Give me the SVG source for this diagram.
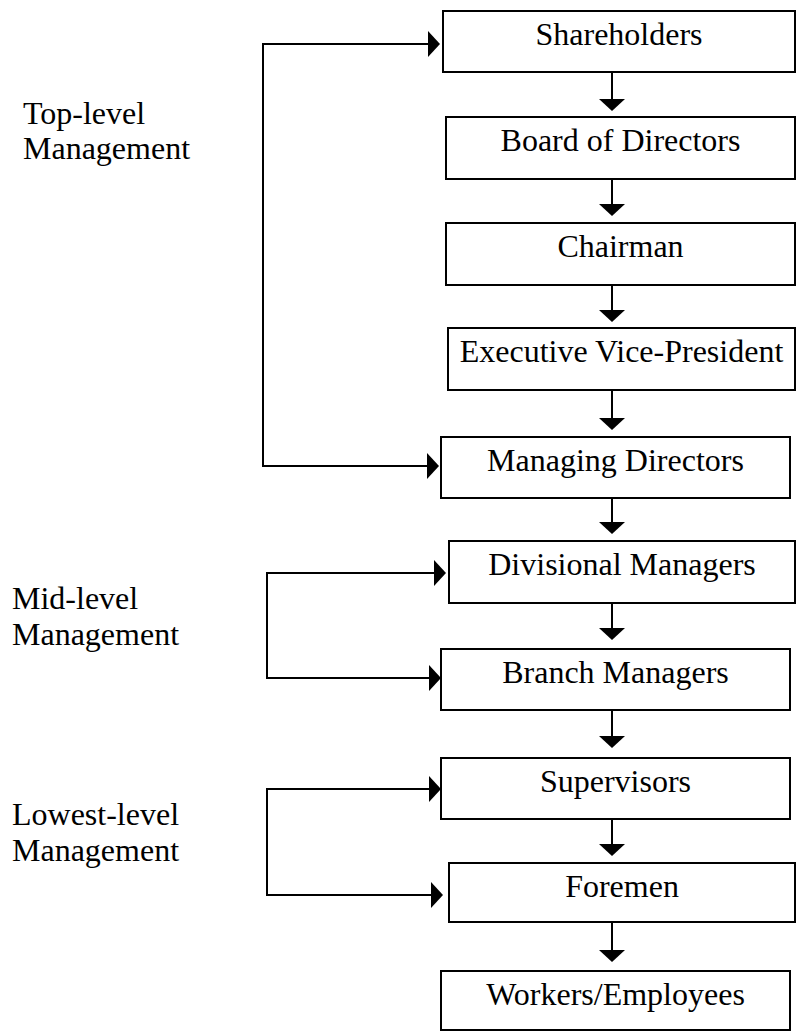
<svg xmlns="http://www.w3.org/2000/svg" width="796" height="1034" viewBox="0 0 796 1034">
  <defs>
    <style>
      .box { fill: #ffffff; stroke: #000000; stroke-width: 2; }
      .lbl { font-family: "Liberation Serif", "Times New Roman", serif; font-size: 32px; fill: #000000; }
      .mid { text-anchor: middle; }
      .conn { fill: none; stroke: #000000; stroke-width: 2; }
    </style>
    <marker id="ah" viewBox="0 0 12 26" markerWidth="12" markerHeight="26" refX="10" refY="13" orient="auto-start-reverse" markerUnits="userSpaceOnUse">
      <path d="M0,0 L12,13 L0,26 z" fill="#000000"/>
    </marker>
  </defs>

  <rect width="796" height="1034" fill="#ffffff"/>

  <!-- level labels -->
  <g id="label-top">
    <text class="lbl" x="23" y="124">Top-level</text>
    <text class="lbl" x="23" y="159">Management</text>
  </g>
  <g id="label-mid">
    <text class="lbl" x="12" y="609">Mid-level</text>
    <text class="lbl" x="12" y="645">Management</text>
  </g>
  <g id="label-low">
    <text class="lbl" x="12" y="825">Lowest-level</text>
    <text class="lbl" x="12" y="861">Management</text>
  </g>

  <!-- hierarchy boxes -->
  <g id="shareholders">
    <rect class="box" x="443" y="11" width="352" height="61"/>
    <text class="lbl mid" x="619" y="45">Shareholders</text>
  </g>
  <g id="board">
    <rect class="box" x="446" y="117" width="349" height="62"/>
    <text class="lbl mid" x="620.5" y="151">Board of Directors</text>
  </g>
  <g id="chairman">
    <rect class="box" x="446" y="223" width="349" height="62"/>
    <text class="lbl mid" x="620.5" y="257">Chairman</text>
  </g>
  <g id="exec-vp">
    <rect class="box" x="448" y="328" width="347" height="62"/>
    <text class="lbl mid" x="621.5" y="362">Executive Vice-President</text>
  </g>
  <g id="managing-directors">
    <rect class="box" x="441" y="437" width="349" height="61"/>
    <text class="lbl mid" x="615.5" y="471">Managing Directors</text>
  </g>
  <g id="divisional-managers">
    <rect class="box" x="449" y="541" width="346" height="62"/>
    <text class="lbl mid" x="622" y="575">Divisional Managers</text>
  </g>
  <g id="branch-managers">
    <rect class="box" x="441" y="649" width="349" height="61"/>
    <text class="lbl mid" x="615.5" y="683">Branch Managers</text>
  </g>
  <g id="supervisors">
    <rect class="box" x="441" y="758" width="349" height="61"/>
    <text class="lbl mid" x="615.5" y="792">Supervisors</text>
  </g>
  <g id="foremen">
    <rect class="box" x="449" y="863" width="346" height="59"/>
    <text class="lbl mid" x="622" y="897">Foremen</text>
  </g>
  <g id="workers">
    <rect class="box" x="441" y="971" width="349" height="59"/>
    <text class="lbl mid" x="615.5" y="1005">Workers/Employees</text>
  </g>

  <!-- connectors -->
  <g id="connectors">
    <path class="conn" marker-end="url(#ah)" d="M612,72 V109"/>
    <path class="conn" marker-end="url(#ah)" d="M612,179 V214"/>
    <path class="conn" marker-end="url(#ah)" d="M612,285 V320"/>
    <path class="conn" marker-end="url(#ah)" d="M612,390 V428"/>
    <path class="conn" marker-end="url(#ah)" d="M612,498 V532"/>
    <path class="conn" marker-end="url(#ah)" d="M612,603 V638"/>
    <path class="conn" marker-end="url(#ah)" d="M612,710 V746"/>
    <path class="conn" marker-end="url(#ah)" d="M612,819 V854"/>
    <path class="conn" marker-end="url(#ah)" d="M612,922 V960"/>

    <!-- management level brackets -->
    <path class="conn" marker-start="url(#ah)" marker-end="url(#ah)" d="M438,44 H263 V466 H437"/>
    <path class="conn" marker-start="url(#ah)" marker-end="url(#ah)" d="M444,573 H267 V678 H439"/>
    <path class="conn" marker-start="url(#ah)" marker-end="url(#ah)" d="M439,789 H267 V895 H441"/>
  </g>
</svg>
